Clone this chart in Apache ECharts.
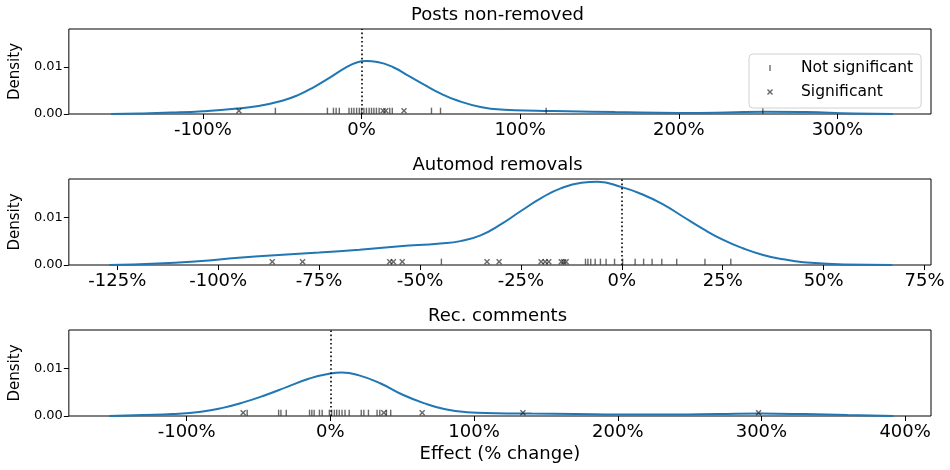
<!DOCTYPE html>
<html>
<head>
<meta charset="utf-8">
<script src="https://cdn.jsdelivr.net/npm/echarts@6/dist/echarts.min.js"></script>
<style>
html, body { margin: 0; padding: 0; background: #fff; }
#chart { width: 950px; height: 470px; }
</style>
</head>
<body>
<div id="chart"></div>
<script>
var panelTitles = ["Posts non-removed", "Automod removals", "Rec. comments"];
var xLabel = "Effect (% change)";
var yLabel = "Density";
var legendNames = ["Not significant", "Significant"];

// tick labels (percent)
var xTicks1 = [-100, 0, 100, 200, 300];
var xTicks2 = [-125, -100, -75, -50, -25, 0, 25, 50, 75];
var xTicks3 = [-100, 0, 100, 200, 300, 400];
var yTicks = [0, 0.01];

// density curves (x in %, density)
var curve1X = [-158, -140, -120, -100, -80, -65, -50, -40, -30, -20, -10, -3, 3, 10, 20, 30, 40, 50, 60, 75, 90, 110, 130, 160, 200, 230, 255, 280, 310, 335];
var curve1Y = [0.0000, 0.0001, 0.0003, 0.0006, 0.0011, 0.0017, 0.0028, 0.0040, 0.0057, 0.0077, 0.0098, 0.0109, 0.0112, 0.0110, 0.0099, 0.0080, 0.0061, 0.0043, 0.0029, 0.0015, 0.0009, 0.0007, 0.0006, 0.0004, 0.0002, 0.0003, 0.0005, 0.0004, 0.0001, 0.0000];

var curve2X = [-127, -115, -105, -95, -85, -75, -65, -55, -45, -40, -35, -30, -25, -20, -15, -10, -6, 0, 5, 10, 15, 20, 25, 30, 35, 40, 45, 55, 67];
var curve2Y = [0.0000, 0.0003, 0.0008, 0.0015, 0.0021, 0.0026, 0.0032, 0.0039, 0.0045, 0.0050, 0.0062, 0.0085, 0.0113, 0.0140, 0.0161, 0.0172, 0.0174, 0.0163, 0.0148, 0.0128, 0.0102, 0.0076, 0.0053, 0.0035, 0.0021, 0.0012, 0.0006, 0.0001, 0.0000];

var curve3X = [-154, -130, -110, -90, -75, -60, -45, -30, -15, 0, 8, 20, 35, 50, 65, 80, 95, 115, 140, 170, 200, 240, 270, 300, 330, 360, 392];
var curve3Y = [0.0000, 0.0002, 0.0004, 0.0009, 0.0017, 0.0029, 0.0044, 0.0061, 0.0078, 0.0089, 0.0091, 0.0085, 0.0068, 0.0045, 0.0027, 0.0014, 0.0008, 0.0006, 0.0005, 0.0004, 0.0003, 0.0003, 0.0004, 0.0005, 0.0004, 0.0002, 0.0000];

// rug points (effect in %)
var notSig1 = [-54.3, -21.5, -17.7, -16, -14, -7.9, -6.3, -4.8, -3.1, -1.4, 0, 1.5, 3.1, 4.8, 6.3, 7.8, 9.4, 11.1, 17.8, 19.4, 44.1, 49.8, 116.4, 253];
var sig1 = [-77.3, 13.6, 15.3, 26.8];

var notSig2 = [-44.7, -9, -8.4, -7.7, -6.6, -5.3, -3.9, -1.8, 0.2, 3.3, 5.4, 7.5, 9.9, 13.6, 20.6, 27];
var sig2 = [-86.6, -79.1, -57.5, -56.6, -54.4, -33.4, -30.4, -20, -19, -18.1, -15, -14.4, -13.8];

var notSig3 = [-57.9, -36, -34.4, -30.7, -14.5, -12.9, -11.3, -7.6, -5.7, -0.7, 0.9, 2.8, 4.4, 6.2, 8.1, 10.2, 13.1, 21.5, 23.3, 26.5, 32.5, 34.4, 39, 42];
var sig3 = [-60.7, 37.2, 63.9, 134, 298];

var FONT = "DejaVu Sans";
var rugLevel = 0.0007;
var tickPath = "path://M0,0M10,10M4.3,2H5.7V8H4.3Z";
var crossPath = "path://M0,0M10,10M2,3L3,2L5,4L7,2L8,3L6,5L8,7L7,8L5,6L3,8L2,7L4,5Z";
var legendTick = "path://M0,0M37,10M10.3,2H11.7V8H10.3Z";
var legendCross = "path://M0,0M37,10M8,3L9,2L11,4L13,2L14,3L12,5L14,7L13,8L11,6L9,8L8,7L10,5Z";
var rugColor = "rgba(20,20,20,0.8)";

var panels = [
    { cx: curve1X, cy: curve1Y, ns: notSig1, s: sig1, ticks: xTicks1, min: -184.5, max: 359, top: 29, height: 85 },
    { cx: curve2X, cy: curve2Y, ns: notSig2, s: sig2, ticks: xTicks2, min: -137, max: 76.6, top: 179, height: 86 },
    { cx: curve3X, cy: curve3Y, ns: notSig3, s: sig3, ticks: xTicks3, min: -182, max: 418, top: 330, height: 86 }
];

function zip(xs, ys) {
    var out = [];
    for (var i = 0; i < xs.length; i++) out.push([xs[i], ys[i]]);
    return out;
}

function rug(xs) {
    return xs.map(function (v) { return [v, rugLevel]; });
}

var grids = [], xAxes = [], yAxes = [], series = [], graphics = [];

panels.forEach(function (p, i) {
    grids.push({
        left: 64, width: 867, top: p.top, height: p.height,
        show: true, borderColor: "#000", borderWidth: 1, backgroundColor: "transparent"
    });
    var xa = {
        type: "value", gridIndex: i, min: p.min, max: p.max,
        axisLine: { show: false, onZero: false },
        axisTick: { show: true, length: 5, lineStyle: { color: "#000", width: 1 }, customValues: p.ticks },
        axisLabel: {
            customValues: p.ticks, margin: 7,
            fontFamily: FONT, fontSize: 18, color: "#000",
            formatter: function (v) { return v + "%"; }
        },
        splitLine: { show: false }
    };
    if (i == 2) {
        xa.name = xLabel;
        xa.nameLocation = "middle";
        xa.nameGap = 29;
        xa.nameTextStyle = { fontFamily: FONT, fontSize: 18, color: "#000" };
    }
    xAxes.push(xa);
    yAxes.push({
        type: "value", gridIndex: i, min: 0, max: 0.018,
        name: yLabel, nameLocation: "middle", nameGap: 40, nameRotate: 90,
        nameTextStyle: { fontFamily: FONT, fontSize: 15, color: "#000" },
        axisLine: { show: false, onZero: false },
        axisTick: { show: true, length: 5, lineStyle: { color: "#000", width: 1 }, customValues: yTicks },
        axisLabel: {
            customValues: yTicks, margin: 6,
            fontFamily: FONT, fontSize: 13, color: "#000",
            formatter: function (v) { return v.toFixed(2); }
        },
        splitLine: { show: false }
    });

    series.push({
        type: "line", xAxisIndex: i, yAxisIndex: i,
        data: zip(p.cx, p.cy),
        smooth: 0.5,
        showSymbol: false, silent: true,
        lineStyle: { color: "#1f77b4", width: 2 },
        markLine: {
            silent: true, symbol: "none", animation: false,
            label: { show: false },
            lineStyle: { color: "#000", type: [1.6, 2.6], width: 1.6 },
            data: [{ xAxis: 0 }]
        },
        z: 2
    });
    series.push({
        type: "scatter", name: legendNames[0], xAxisIndex: i, yAxisIndex: i,
        data: rug(p.ns), symbol: tickPath, symbolSize: 10,
        itemStyle: { color: rugColor }, z: 3
    });
    series.push({
        type: "scatter", name: legendNames[1], xAxisIndex: i, yAxisIndex: i,
        data: rug(p.s), symbol: crossPath, symbolSize: 10,
        itemStyle: { color: rugColor }, z: 3
    });

    graphics.push({
        type: "text", x: 497.5, y: p.top - 14,
        style: {
            text: panelTitles[i], font: "18px " + FONT,
            align: "center", verticalAlign: "middle", fill: "#000"
        }
    });
});

var chart = echarts.init(document.getElementById("chart"), null, { renderer: "canvas" });
chart.setOption({
    animation: false,
    grid: grids,
    xAxis: xAxes,
    yAxis: yAxes,
    series: series,
    graphic: graphics,
    legend: {
        orient: "vertical",
        left: 749, top: 54,
        padding: [5, 8, 7, 10],
        itemGap: 6,
        itemWidth: 37, itemHeight: 10,
        borderColor: "#d0d0d0", borderWidth: 1, borderRadius: 4,
        backgroundColor: "rgba(255,255,255,0.8)",
        selectedMode: false,
        textStyle: { fontFamily: FONT, fontSize: 15.5, color: "#000", lineHeight: 18 },
        data: [
            { name: legendNames[0], icon: legendTick },
            { name: legendNames[1], icon: legendCross }
        ]
    }
});
</script>
</body>
</html>
